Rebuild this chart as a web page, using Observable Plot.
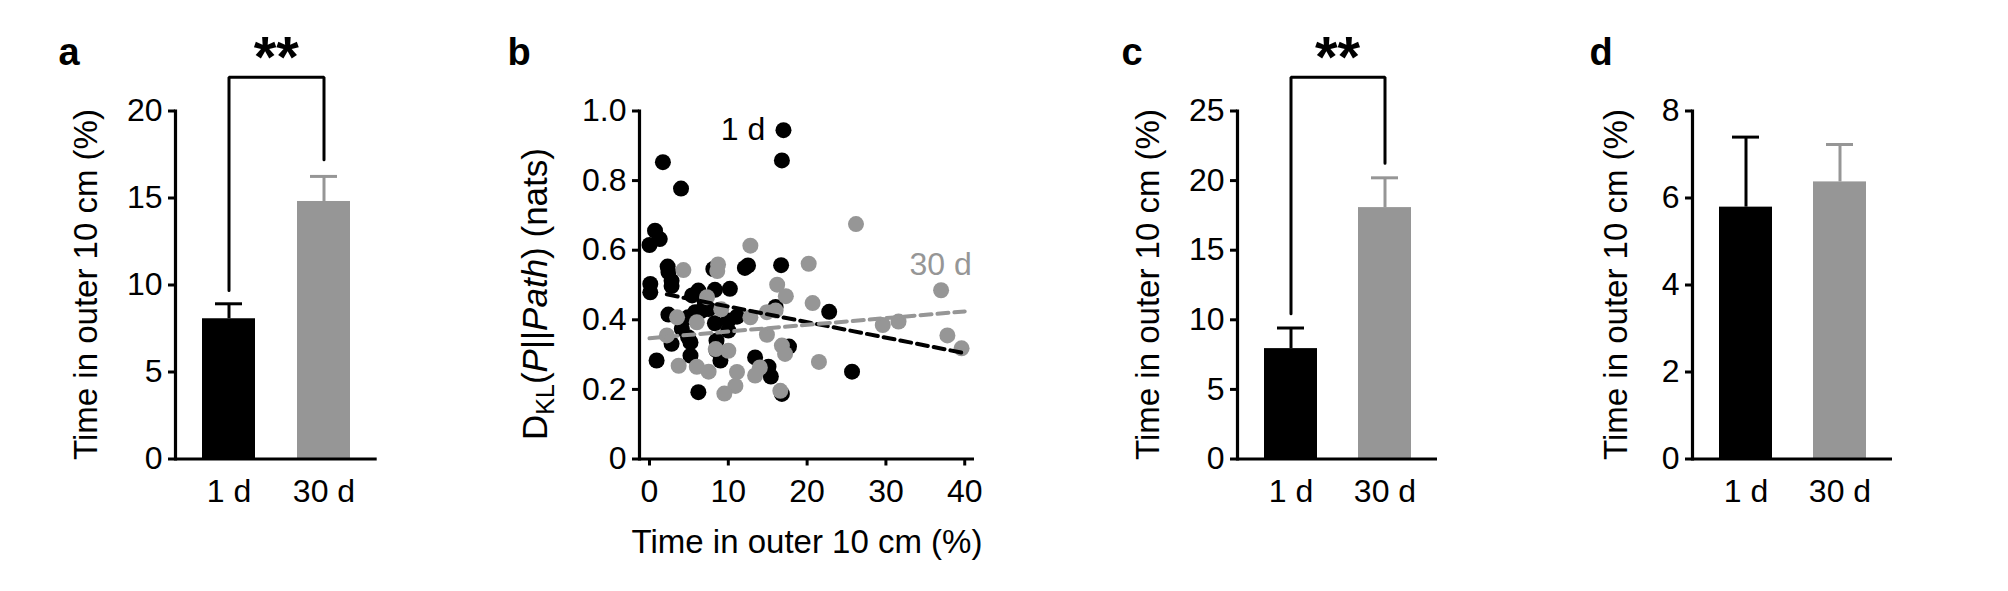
<!DOCTYPE html>
<html><head><meta charset="utf-8">
<script src="https://cdn.jsdelivr.net/npm/d3@7"></script>
<script src="https://cdn.jsdelivr.net/npm/@observablehq/plot@0.6"></script>
<style>
html,body{margin:0;padding:0;background:#fff;}
#root{position:relative;width:2008px;height:591px;overflow:hidden;}
#root svg{position:absolute;top:0;}
</style></head><body><div id="root"></div>
<script>
// ---------- data ----------
const groups = ["1 d", "30 d"];
const aMeans = [8.06, 14.8];
const aErrTop = [8.92, 16.24];
const cMeans = [7.93, 18.06];
const cErrTop = [9.41, 20.2];
const dMeans = [5.79, 6.37];
const dErrTop = [7.40, 7.23];
const aTicks = [0, 5, 10, 15, 20];
const cTicks = [0, 5, 10, 15, 20, 25];
const dTicks = [0, 2, 4, 6, 8];
const bTicksX = [0, 10, 20, 30, 40];
const bTicksY = [0, 0.2, 0.4, 0.6, 0.8, 1.0];
// significance brackets: [left leg bottom, bracket top, right leg bottom]
const aBracket = [9.68, 21.94, 17.2];
const cBracket = [10.43, 27.43, 21.24];
const sigLabel = "**";
// panel b scatter: [time in outer 10 cm (%), D_KL (nats)]
const pts1d = [
  [17.0,0.945],[16.8,0.858],[1.7,0.853],[4.0,0.777],[0.7,0.656],[0.0,0.615],[1.3,0.632],
  [2.3,0.553],[2.4,0.537],[2.8,0.512],[2.8,0.497],[0.1,0.503],[0.1,0.479],[16.7,0.557],
  [12.1,0.549],[12.5,0.556],[8.1,0.546],[5.4,0.47],[6.2,0.484],[8.3,0.486],[10.2,0.489],
  [2.4,0.415],[4.9,0.407],[5.8,0.422],[6.6,0.426],[7.5,0.431],[8.3,0.39],[10.0,0.398],
  [10.0,0.369],[11.1,0.409],[4.1,0.374],[4.9,0.35],[5.2,0.335],[5.2,0.297],[2.8,0.331],
  [0.9,0.283],[6.2,0.192],[8.5,0.34],[8.5,0.312],[9.0,0.283],[13.4,0.292],[15.1,0.265],
  [15.4,0.237],[16.8,0.187],[17.7,0.323],[16.0,0.437],[22.8,0.423],[25.7,0.251],[7.0,0.452]
];
const pts30d = [
  [26.2,0.675],[12.8,0.613],[20.2,0.561],[4.3,0.543],[8.7,0.559],[8.6,0.54],[7.3,0.465],
  [16.2,0.501],[17.3,0.468],[3.5,0.407],[6.0,0.393],[9.1,0.43],[12.8,0.407],[14.9,0.422],
  [16.0,0.427],[20.7,0.448],[14.9,0.357],[16.8,0.326],[17.2,0.302],[2.2,0.355],[3.7,0.268],
  [6.0,0.265],[7.5,0.251],[8.4,0.316],[10.0,0.311],[11.1,0.25],[10.9,0.21],[9.5,0.188],
  [14.0,0.263],[13.4,0.24],[16.6,0.196],[21.5,0.279],[29.6,0.385],[31.6,0.395],[37.0,0.485],
  [37.8,0.355],[39.6,0.318]
];
// regression lines (endpoints)
const fit1d = [[2.2,0.473],[40.0,0.304]];
const fit30d = [[0.0,0.347],[40.0,0.424]];
const seriesLabels = [
  {label: "1 d", x: 14.7, y: 0.946, group: "1 d"},
  {label: "30 d", x: 33.0, y: 0.557, group: "30 d"}
];
const yTitle = "Time in outer 10 cm (%)";
const xTitleB = "Time in outer 10 cm (%)";

// ---------- style / layout ----------
const BLACK = "#000000", GREY = "#969696";
const FONT = "'Liberation Sans', Arial, Helvetica, sans-serif";
const TICKFS = 32, TITLEFS = 33, LETTERFS = 38;
const TOP = 110.5, BOTTOM = 591 - 458.5, H = 591;
const root = document.getElementById("root");

function place(svg, left) {
  svg.style.left = left + "px";
  root.appendChild(svg);
  return d3.select(svg);
}
function letter(sel, x, txt) {
  sel.append("text").attr("x", x).attr("y", 65).attr("font-size", LETTERFS)
    .attr("font-weight", "bold").attr("fill", "#000").text(txt);
}
function rotTitle(sel, cx, cy, fs, build) {
  const t = sel.append("text")
    .attr("transform", `translate(${cx + 0.358 * fs},${cy}) rotate(-90)`)
    .attr("text-anchor", "middle").attr("font-size", fs).attr("fill", "#000");
  build(t);
}

function barPanel({left, width, marginLeft, marginRight, means, errTop, ticks, yMax, bracket, letterTxt, letterX, titleX}) {
  const data = groups.map((g, i) => ({group: g, mean: means[i], err: errTop[i]}));
  const marks = [
    Plot.barY(data, {x: "group", y: "mean", fill: "group"}),
    Plot.ruleX(data, {x: "group", y1: "mean", y2: "err", stroke: "group", strokeWidth: 3}),
    Plot.tickY(data, {x: "group", y: "err", stroke: "group", strokeWidth: 3, insetLeft: 13, insetRight: 13}),
    Plot.ruleY([0], {stroke: BLACK, strokeWidth: 3.2}),
    Plot.frame({anchor: "left", stroke: BLACK, strokeWidth: 3.2}),
    Plot.axisY({ticks, tickSize: 7, tickPadding: 6, strokeWidth: 3, fontSize: TICKFS, label: null}),
    Plot.axisX({tickSize: 0, tickPadding: 20, fontSize: TICKFS, label: null})
  ];
  if (bracket) {
    const br = [
      {group: groups[0], y: bracket[0]}, {group: groups[0], y: bracket[1]},
      {group: groups[1], y: bracket[1]}, {group: groups[1], y: bracket[2]}
    ];
    marks.push(Plot.line(br, {x: "group", y: "y", stroke: BLACK, strokeWidth: 3, strokeLinejoin: "miter"}));
    marks.push(Plot.text([sigLabel], {text: d => d, frameAnchor: "top", lineAnchor: "middle", dy: -52.9,
      fontSize: 58, fontWeight: "bold", fill: BLACK}));
  }
  const svg = Plot.plot({
    width, height: H, marginLeft, marginRight, marginTop: TOP, marginBottom: BOTTOM,
    style: {fontFamily: FONT, fontSize: TICKFS + "px", color: "#000", background: "transparent", overflow: "visible"},
    x: {domain: groups, paddingInner: 0.44, paddingOuter: 0.28, label: null},
    y: {domain: [0, yMax], label: null},
    color: {domain: groups, range: [BLACK, GREY]},
    marks
  });
  const sel = place(svg, left);
  letter(sel, letterX, letterTxt);
  rotTitle(sel, titleX, (TOP + (H - BOTTOM)) / 2, TITLEFS, t => t.text(yTitle));
}

barPanel({left: 0, width: 420, marginLeft: 175, marginRight: 43.3, means: aMeans, errTop: aErrTop,
  ticks: aTicks, yMax: 20, bracket: aBracket, letterTxt: "a", letterX: 69, titleX: 85});
barPanel({left: 1060, width: 420, marginLeft: 177, marginRight: 43, means: cMeans, errTop: cErrTop,
  ticks: cTicks, yMax: 25, bracket: cBracket, letterTxt: "c", letterX: 1132 - 1060, titleX: 1147 - 1060});
barPanel({left: 1520, width: 420, marginLeft: 172, marginRight: 48, means: dMeans, errTop: dErrTop,
  ticks: dTicks, yMax: 8, bracket: null, letterTxt: "d", letterX: 1601 - 1520, titleX: 1615 - 1520});

// ---------- panel b ----------
{
  const left = 460, width = 560;
  const svg = Plot.plot({
    width, height: H, marginLeft: 639 - left, marginRight: left + width - 974, marginTop: TOP, marginBottom: BOTTOM,
    style: {fontFamily: FONT, fontSize: TICKFS + "px", color: "#000", background: "transparent", overflow: "visible"},
    x: {domain: [-1.27, 41.24], label: null},
    y: {domain: [0, 1], label: null},
    color: {domain: groups, range: [BLACK, GREY]},
    marks: [
      Plot.dot(pts1d, {x: d => d[0], y: d => d[1], r: 8, fill: BLACK, stroke: "none"}),
      Plot.dot(pts30d, {x: d => d[0], y: d => d[1], r: 8, fill: GREY, stroke: "none"}),
      Plot.line(fit1d, {x: d => d[0], y: d => d[1], stroke: BLACK, strokeWidth: 4, strokeDasharray: "11,6"}),
      Plot.line(fit30d, {x: d => d[0], y: d => d[1], stroke: GREY, strokeWidth: 4, strokeDasharray: "11,6"}),
      Plot.text(seriesLabels.slice(0, 1), {x: "x", y: "y", text: "label", fill: "group", textAnchor: "end", fontSize: TICKFS}),
      Plot.text(seriesLabels.slice(1), {x: "x", y: "y", text: "label", fill: "group", textAnchor: "start", fontSize: TICKFS}),
      Plot.ruleY([0], {stroke: BLACK, strokeWidth: 3.2}),
      Plot.frame({anchor: "left", stroke: BLACK, strokeWidth: 3.2}),
      Plot.axisX({ticks: bTicksX, tickSize: 7, tickPadding: 13, strokeWidth: 3, fontSize: TICKFS, label: null}),
      Plot.axisY({ticks: bTicksY, tickSize: 7, tickPadding: 6, strokeWidth: 3, fontSize: TICKFS, label: null,
        tickFormat: d => d === 0 ? "0" : d.toFixed(1)})
    ]
  });
  const sel = place(svg, left);
  letter(sel, 519 - left, "b");
  rotTitle(sel, 534 - left, 294, 35, t => {
    t.append("tspan").text("D");
    t.append("tspan").attr("font-size", 25).attr("dy", 7).text("KL");
    t.append("tspan").attr("dy", -7).text("(");
    t.append("tspan").attr("font-style", "italic").text("P");
    t.append("tspan").text("||");
    t.append("tspan").attr("font-style", "italic").text("Path");
    t.append("tspan").text(") (nats)");
  });
  sel.append("text").attr("x", 807 - left).attr("y", 541).attr("dy", "0.35em")
    .attr("text-anchor", "middle").attr("font-size", TITLEFS).attr("fill", "#000").text(xTitleB);
}
</script></body></html>
